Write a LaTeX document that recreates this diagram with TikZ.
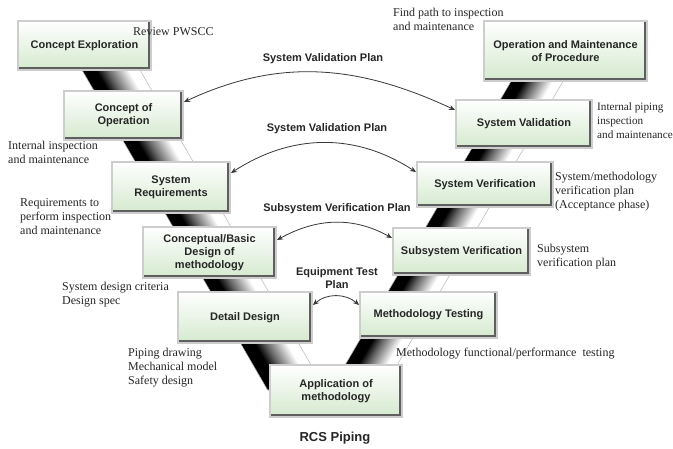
\documentclass[tikz,border=0pt]{standalone}
\usepackage{fontspec}
\setmainfont{Liberation Serif}
\setsansfont{Liberation Sans}
\usetikzlibrary{arrows.meta}
\pgfdeclarehorizontalshading{bandshade}{100bp}{color(0bp)=(black); color(37bp)=(black); color(47bp)=(black!60); color(65bp)=(white); color(100bp)=(white)}
\definecolor{boxgreen}{RGB}{212,233,206}
\definecolor{edgedark}{RGB}{95,95,95}
\definecolor{edgelight}{RGB}{205,205,205}
\definecolor{arrowgray}{RGB}{55,55,55}
\begin{document}
\begin{tikzpicture}[x=1pt,y=-1pt,
  vbox/.style={rectangle, draw=edgelight, line width=2pt, top color=white, bottom color=boxgreen,
    font=\sffamily\bfseries\fontsize{11}{13}\selectfont, text=black!85, align=center, inner sep=2pt,
    path picture={\draw[edgedark, line width=6pt] (path picture bounding box.north east) -- (path picture bounding box.south east) -- (path picture bounding box.south west);}},
  note/.style={font=\rmfamily\fontsize{12}{14}\selectfont, align=left, anchor=base west, inner sep=0pt, text=black!85},
  plan/.style={font=\sffamily\bfseries\fontsize{11}{13}\selectfont, align=center, anchor=base, inner sep=0pt, text=black!85},
  link/.style={draw=arrowgray, line width=0.8pt, {Stealth[length=6pt,width=5pt]}-{Stealth[length=6pt,width=5pt]}},
  band/.style={shading=bandshade, draw=gray!55, line width=0.6pt}
]
\useasboundingbox[fill=white] (0,0) rectangle (673,448);

% V bands
\begin{scope}[transform canvas={xslant=-0.58}]
  \path[band] (41.4,55) rectangle (99.4,390);
\end{scope}
\begin{scope}[transform canvas={xslant=0.585}]
  \path[band] (558.6,60) rectangle (610.6,385);
\end{scope}

% boxes
\node[vbox, minimum width=133pt, minimum height=49pt] (ce) at (84.5,45.5) {Concept Exploration};
\node[vbox, minimum width=119pt, minimum height=49pt] (coo) at (123.5,115.5) {Concept of\\Operation};
\node[vbox, minimum width=118pt, minimum height=51pt] (sr) at (171,187.5) {System\\Requirements};
\node[vbox, minimum width=133pt, minimum height=51pt] (cbd) at (209.5,252.5) {Conceptual/Basic\\Design of\\methodology};
\node[vbox, minimum width=134pt, minimum height=51pt] (dd) at (245,317.5) {Detail Design};
\node[vbox, minimum width=132pt, minimum height=52pt] (aom) at (336,391) {Application of\\methodology};
\node[vbox, minimum width=137pt, minimum height=46pt] (mt) at (428.5,315) {Methodology Testing};
\node[vbox, minimum width=137pt, minimum height=47pt] (subv) at (461.5,251.5) {Subsystem Verification};
\node[vbox, minimum width=136pt, minimum height=45pt] (sysver) at (485,184.5) {System Verification};
\node[vbox, minimum width=136pt, minimum height=48pt] (sysval) at (524,124) {System Validation};
\node[vbox, minimum width=163pt, minimum height=60pt] (omp) at (565.5,51) {Operation and Maintenance\\of Procedure};

% plan arrows
\draw[link] ([yshift=13.5pt]coo.east) to[out=25,in=155] ([yshift=14pt]sysval.west);
\draw[link] ([yshift=14.5pt]sr.east) to[out=33,in=147] ([yshift=12.5pt]sysver.west);
\draw[link] ([yshift=12.5pt]cbd.east) to[out=29,in=151] ([yshift=13.5pt]subv.west);
\draw[link] ([yshift=12.5pt]dd.east) to[out=41,in=139] ([yshift=10pt]mt.west);

% plan labels
\node[plan] (l1) at (323,61) {System Validation Plan};
\node[plan] (l2) at (327,131) {System Validation Plan};
\node[plan] (l3) at (337,211) {Subsystem Verification Plan};
\node[plan] (l4) at (337,288) {Equipment Test\\Plan};
\node[plan, font=\sffamily\bfseries\fontsize{13}{15}\selectfont] (l5) at (335,441.5) {RCS Piping};

% notes (anchor at last baseline)
\node[note] (n1) at (133,35) {Review PWSCC};
\node[note] (n2) at (393,30) {Find path to inspection\\and maintenance};
\node[note, font=\rmfamily\fontsize{11.2}{14}\selectfont] (n3) at (597,138) {Internal piping\\inspection\\and maintenance};
\node[note] (n4) at (8,163.5) {Internal inspection\\and maintenance};
\node[note] (n5) at (20,234) {Requirements to\\perform inspection\\and maintenance};
\node[note] (n6) at (62,304) {System design criteria\\Design spec};
\node[note] (n7) at (128,384) {Piping drawing\\Mechanical model\\Safety design};
\node[note] (n8) at (396,356) {Methodology functional/performance\ \ testing};
\node[note] (n9) at (555,208) {System/methodology\\verification plan\\(Acceptance phase)};
\node[note] (n10) at (537,266) {Subsystem\\verification plan};
\end{tikzpicture}
\end{document}
